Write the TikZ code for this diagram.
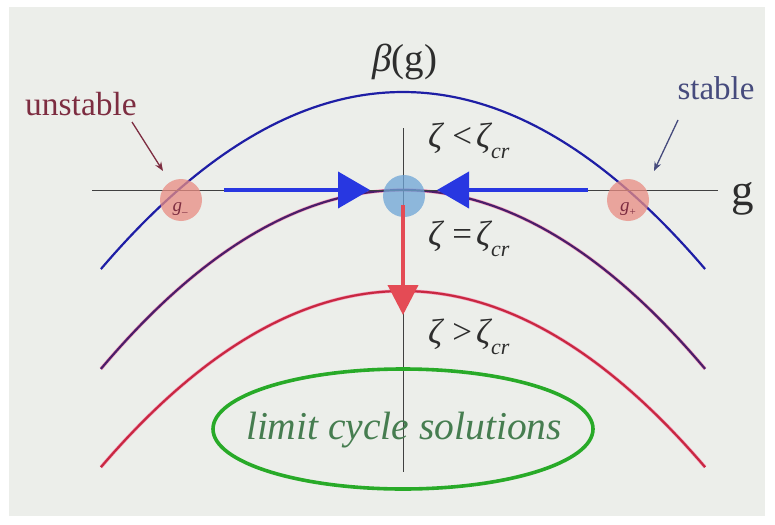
\documentclass[tikz,border=0pt]{standalone}
\usepackage{fontspec}
\setmainfont{Liberation Serif}
\usetikzlibrary{arrows.meta}
\definecolor{bg}{RGB}{236,238,234}
\definecolor{cblue}{RGB}{30,30,165}
\definecolor{cpurp}{RGB}{75,30,105}
\definecolor{cred}{RGB}{200,40,65}
\definecolor{halo}{RGB}{245,160,190}
\definecolor{arrblue}{RGB}{40,55,225}
\definecolor{arrred}{RGB}{228,75,85}
\definecolor{dotblue}{RGB}{110,165,215}
\definecolor{dotred}{RGB}{232,140,130}
\definecolor{cgreen}{RGB}{40,170,40}
\definecolor{tgreen}{RGB}{70,125,80}
\definecolor{unst}{RGB}{125,45,65}
\definecolor{stab}{RGB}{70,75,125}
\definecolor{ink}{RGB}{45,45,45}
\tikzset{
  axis/.style={draw=black!75, line width=0.9pt},
  curve/.style={line width=2.2pt, domain=-1.007:1.007, samples=90},
  flowarrow/.style={line width=4pt, -{Triangle[length=32pt,width=36pt]}},
  pointer/.style={line width=1.3pt, -{Stealth[length=9pt,width=7pt]}},
  fixpt/.style={circle, minimum size=42pt, inner sep=0pt, fill opacity=0.75},
  lbl/.style={inner sep=0pt},
  zlbl/.style={inner sep=0pt, anchor=west, text=ink, font=\fontsize{35}{38}\selectfont},
  glbl/.style={inner sep=0pt, text=unst, font=\fontsize{19}{21}\selectfont},
}
\newcommand{\zcr}{\textit{ζ}\kern-1pt\raisebox{-0.3em}{\fontsize{22}{24}\selectfont\textit{cr}}}
\begin{document}
\begin{tikzpicture}[x=1pt,y=-1pt]
\fill[white] (0,0) rectangle (775,524);
\fill[bg] (9,7) rectangle (765,516);
\useasboundingbox (0,0) rectangle (775,524);
% curves
\draw[curve, draw=cblue] plot ({403+300*\x},{92+174.6*\x*\x});
\draw[curve, draw=halo, line width=3.4pt] plot ({403+300*\x},{190+176.4*\x*\x});
\draw[curve, draw=cpurp] plot ({403+300*\x},{190+176.4*\x*\x});
\draw[curve, draw=halo, line width=3.4pt] plot ({403+300*\x},{291+173.7*\x*\x});
\draw[curve, draw=cred] plot ({403+300*\x},{291+173.7*\x*\x});
% axes
\coordinate (xl) at (92,190);
\coordinate (xr) at (718,190);
\coordinate (yt) at (403,128);
\coordinate (yb) at (403,472);
\draw[axis] (xl) -- (xr);
\draw[axis] (yt) -- (yb);
\node[lbl, text=ink] (beta) at (405,62) {\fontsize{39}{42}\selectfont\textit{β}(g)};
\node[lbl, text=ink] (glab) at (743,199) {\fontsize{45}{48}\selectfont g};
% green ellipse
\draw[cgreen, line width=3.6pt] (403,429) ellipse (190 and 60);
\node[lbl, text=tgreen] (lc) at (404,430) {\fontsize{39.5}{42}\selectfont\textit{limit cycle solutions}};
% fixed points
\node[fixpt, fill=dotblue] (g0) at (404,196) {};
\node[fixpt, fill=dotred] (gm) at (181,200) {};
\node[fixpt, fill=dotred] (gp) at (628,200) {};
\node[glbl] (gml) at (180,209) {\textit{g}\raisebox{-0.2em}{\fontsize{11}{12}\selectfont –}};
\node[glbl] (gpl) at (628,209) {\textit{g}\raisebox{-0.2em}{\fontsize{11}{12}\selectfont +}};
% flow arrows
\coordinate (la) at (224,190);
\coordinate (lt) at (370,190);
\coordinate (ra) at (588,190);
\coordinate (rt) at (437,190);
\coordinate (rs) at (403,205);
\coordinate (re) at (403,315);
\draw[flowarrow, draw=arrblue, fill=arrblue] (la) -- (lt);
\draw[flowarrow, draw=arrblue, fill=arrblue] (ra) -- (rt);
\draw[line width=4pt, draw=arrred, -{Triangle[length=30pt,width=30pt]}] (rs) -- (re);
% zeta labels
\node[zlbl] (z1) at (428,141) {\textit{ζ}\kern8pt<\kern4pt\zcr};
\node[zlbl] (z2) at (428,239) {\textit{ζ}\kern8pt=\kern4pt\zcr};
\node[zlbl] (z3) at (428,337) {\textit{ζ}\kern8pt>\kern4pt\zcr};
% stable / unstable
\node[lbl, text=unst] (unstable) at (81,104) {\fontsize{33.5}{36}\selectfont unstable};
\node[lbl, text=stab] (stable) at (716,88) {\fontsize{33}{36}\selectfont stable};
\coordinate (ua) at (132,122);
\coordinate (ub) at (163,171);
\coordinate (sa) at (678,120);
\coordinate (sb) at (654,171);
\draw[pointer, draw=unst, fill=unst] (ua) -- (ub);
\draw[pointer, draw=stab, fill=stab] (sa) -- (sb);
\end{tikzpicture}
\end{document}
